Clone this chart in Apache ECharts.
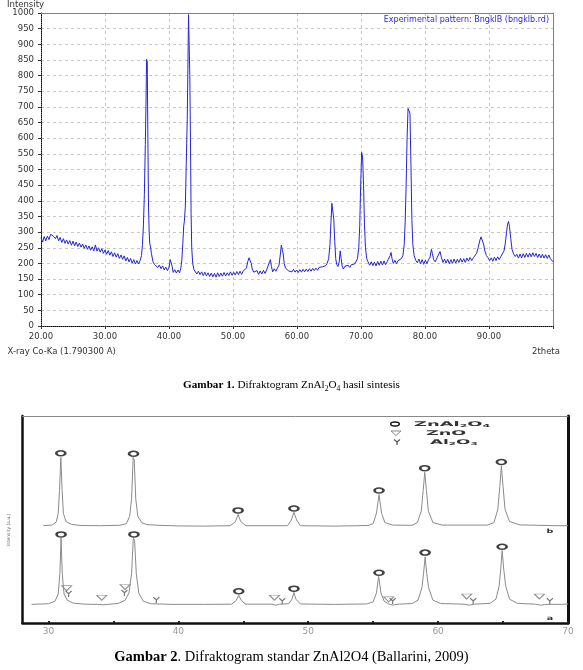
<!DOCTYPE html>
<html>
<head>
<meta charset="utf-8">
<script src="https://cdn.jsdelivr.net/npm/echarts@6/dist/echarts.min.js"></script>
<style>
  html, body { margin: 0; padding: 0; background: #fff; }
  #chart { width: 583px; height: 670px; }
</style>
</head>
<body>
<div id="chart"></div>
<script>
// Gambar 1: experimental pattern, [2theta, intensity]
const expPattern = [
  [20.0,282],[20.25,268],[20.5,286],[20.75,272],[21.0,287],[21.25,276],[21.5,293],[21.75,297],[22.0,286],[22.25,279],
  [22.5,289],[22.75,272],[23.0,283],[23.25,267],[23.5,279],[23.75,264],[24.0,275],[24.25,262],[24.5,273],[24.75,258],
  [25.0,271],[25.25,256],[25.5,268],[25.75,254],[26.0,265],[26.25,252],[26.5,262],[26.75,248],[27.0,259],[27.25,245],
  [27.5,256],[27.75,242],[28.0,253],[28.25,240],[28.5,259],[28.75,239],[29.0,250],[29.25,236],[29.5,247],[29.75,232],
  [30.0,243],[30.25,229],[30.5,241],[30.75,226],[31.0,237],[31.25,222],[31.5,234],[31.75,220],[32.0,231],[32.25,216],
  [32.5,227],[32.75,213],[33.0,224],[33.25,208],[33.5,219],[33.75,205],[34.0,216],[34.25,201],[34.5,212],[34.75,198],
  [35.0,209],[35.25,198],[35.5,210],[35.7,225],[35.85,260],[36.0,320],[36.15,420],[36.3,580],[36.4,700],[36.5,852],
  [36.6,845],[36.7,600],[36.8,380],[36.9,300],[37.0,262],[37.1,255],[37.25,232],[37.5,205],[37.75,196],[38.0,199],
  [38.25,187],[38.5,195],[38.75,183],[39.0,192],[39.25,179],[39.5,188],[39.75,177],[40.0,188],[40.2,212],[40.35,218],
  [40.5,190],[40.65,171],[40.9,180],[41.15,169],[41.4,179],[41.65,170],[41.85,185],[42.0,210],[42.15,260],[42.3,320],
  [42.4,335],[42.55,380],[42.7,520],[42.85,660],[42.95,820],[43.05,995],[43.15,990],[43.25,800],[43.35,600],[43.45,360],
  [43.55,250],[43.7,200],[43.9,180],[44.1,176],[44.35,166],[44.6,175],[44.85,164],[45.1,173],[45.35,161],[45.6,172],
  [45.85,160],[46.1,170],[46.35,158],[46.6,169],[46.85,157],[47.1,168],[47.35,156],[47.6,170],[47.85,158],[48.1,169],
  [48.35,159],[48.6,171],[48.85,160],[49.1,170],[49.35,161],[49.6,173],[49.85,162],[50.1,172],[50.35,163],[50.6,174],
  [50.85,164],[51.1,175],[51.35,165],[51.6,176],[51.85,174],[52.1,185],[52.3,205],[52.5,218],[52.7,220],[52.85,200],
  [53.0,182],[53.25,172],[53.5,166],[53.75,177],[54.0,165],[54.25,176],[54.5,166],[54.75,178],[55.0,168],[55.25,179],
  [55.5,182],[55.7,205],[55.85,212],[56.0,190],[56.2,173],[56.45,183],[56.7,175],[56.95,185],[57.2,195],[57.4,230],
  [57.55,258],[57.7,262],[57.85,230],[58.0,200],[58.2,185],[58.45,184],[58.7,176],[58.95,182],[59.2,173],[59.45,181],
  [59.7,172],[59.95,179],[60.2,171],[60.45,180],[60.7,172],[60.95,181],[61.2,173],[61.45,182],[61.7,174],[61.95,183],
  [62.2,175],[62.45,184],[62.7,177],[62.95,185],[63.2,178],[63.45,187],[63.7,181],[63.95,189],[64.2,190],[64.45,192],
  [64.7,200],[64.95,215],[65.15,260],[65.3,330],[65.45,392],[65.6,396],[65.75,340],[65.9,270],[66.05,215],[66.2,197],
  [66.4,190],[66.6,205],[66.75,240],[66.9,215],[67.05,192],[67.25,182],[67.5,191],[67.75,186],[68.0,194],[68.25,187],
  [68.5,196],[68.75,190],[69.0,198],[69.25,200],[69.45,215],[69.65,250],[69.8,320],[69.95,450],[70.1,555],[70.25,540],
  [70.4,450],[70.55,320],[70.7,250],[70.9,215],[71.1,205],[71.35,194],[71.6,205],[71.85,193],[72.1,204],[72.35,192],
  [72.6,206],[72.85,194],[73.1,207],[73.35,195],[73.6,208],[73.85,196],[74.1,206],[74.35,208],[74.55,225],[74.7,235],
  [74.85,215],[75.05,200],[75.3,210],[75.55,199],[75.8,209],[76.05,210],[76.3,215],[76.55,225],[76.75,260],[76.9,330],
  [77.05,450],[77.2,600],[77.35,695],[77.5,690],[77.65,680],[77.8,520],[77.95,340],[78.1,260],[78.3,225],[78.55,210],
  [78.8,202],[79.05,214],[79.3,199],[79.55,212],[79.8,197],[80.05,210],[80.3,199],[80.55,212],[80.8,220],[81.0,245],
  [81.15,232],[81.35,212],[81.6,205],[81.85,217],[82.1,222],[82.35,238],[82.55,220],[82.8,203],[83.05,214],[83.3,201],
  [83.55,213],[83.8,199],[84.05,212],[84.3,200],[84.55,214],[84.8,201],[85.05,213],[85.3,203],[85.55,216],[85.8,204],
  [86.05,215],[86.3,203],[86.55,217],[86.8,207],[87.05,219],[87.3,209],[87.55,218],[87.8,222],[88.05,232],[88.3,250],
  [88.55,272],[88.75,285],[88.95,282],[89.15,262],[89.35,240],[89.6,225],[89.85,218],[90.1,209],[90.35,218],[90.6,207],
  [90.85,220],[91.1,209],[91.35,221],[91.6,212],[91.85,222],[92.1,228],[92.35,240],[92.55,265],[92.75,300],[92.9,325],
  [93.05,334],[93.2,318],[93.4,280],[93.6,245],[93.85,230],[94.1,222],[94.35,229],[94.6,217],[94.85,230],[95.1,218],
  [95.35,231],[95.6,219],[95.85,232],[96.1,220],[96.35,233],[96.6,221],[96.85,234],[97.1,222],[97.35,232],[97.6,219],
  [97.85,230],[98.1,218],[98.35,229],[98.6,217],[98.85,228],[99.1,216],[99.35,227],[99.6,215],[99.85,214],[100.0,205]
];

// Gambar 2: standard patterns (b = top trace, a = bottom trace), arbitrary units
const stdPatternB = [
  [29.6,47],[30.3,47.4],[30.6,48.8],[30.75,53],[30.85,64],[30.95,80],[31.05,64],[31.15,53],[31.35,49],[31.8,47.6],
  [32.5,47.1],[34.0,47],[35.5,47.2],[36.0,48],[36.25,51.5],[36.4,60],[36.52,80],[36.6,79],[36.72,60],[36.88,51.5],
  [37.2,48.4],[37.6,47.5],[38.5,47.2],[40.0,46.9],[42.0,46.8],[44.0,47],[44.4,49],[44.6,52.5],[44.8,49],[45.2,47],
  [48.4,47],[48.7,49.8],[48.9,53.5],[49.1,49.8],[49.4,47],[52.0,46.8],[54.6,47.1],[55.0,48],[55.25,53],[55.45,62],
  [55.65,53],[55.9,48.5],[56.5,47.3],[58.0,47.2],[58.4,48.5],[58.7,54],[58.85,64],[58.97,72.8],[59.1,64],[59.25,54],
  [59.6,48.5],[60.3,47.3],[63.8,47.3],[64.3,48.5],[64.6,55],[64.75,66],[64.87,76],[65.0,66],[65.15,55],[65.5,49],
  [66.3,47.4],[69.0,47],[70.0,47]
];
const stdPatternA = [
  [28.7,9],[30.0,9.3],[30.5,10.5],[30.75,14],[30.88,24],[30.97,41],[31.06,24],[31.2,14],[31.45,11],[31.9,9.6],
  [32.8,9.1],[33.8,9],[34.2,8.8],[34.6,9],[35.4,9.5],[35.9,11],[36.2,14.5],[36.4,24],[36.53,41],[36.63,40],
  [36.76,24],[36.95,14.5],[37.3,10.5],[37.9,9.3],[39.5,9],[42.0,9],[44.1,9.1],[44.45,10.8],[44.65,13.4],[44.85,10.8],
  [45.2,9.1],[47.2,9.1],[47.5,8.6],[47.8,9.1],[48.5,9.3],[48.75,11.5],[48.9,14.8],[49.05,11.5],[49.4,9.2],[52.0,9],
  [54.5,9.2],[55.0,10.2],[55.25,14.5],[55.42,22.5],[55.6,14.5],[55.85,10.5],[56.2,9.2],[56.5,8.6],[56.9,9.1],[58.0,9.4],
  [58.45,11],[58.75,17],[58.88,24],[59.0,32],[59.12,24],[59.27,17],[59.6,11],[60.2,9.4],[62.0,9.1],[62.4,8.6],
  [62.8,9.1],[64.0,9.5],[64.45,11.5],[64.7,18],[64.82,26],[64.93,35],[65.05,26],[65.2,18],[65.5,11.5],[66.1,9.5],
  [67.5,9.1],[67.9,8.6],[68.3,9],[69.5,9],[70.0,9.2]
];

// phase markers
const znAlMarkB = [[30.95,82],[36.55,81.8],[44.6,54.4],[48.9,55.3],[55.45,64],[58.97,74.8],[64.87,77.8]];
const znAlMarkA = [[30.97,42.8],[36.58,42.8],[44.65,15.3],[48.9,16.6],[55.45,24.3],[59.0,34],[64.93,36.8]];
const znoMark = [[31.4,16.8],[34.1,12.2],[35.9,17.4],[47.4,12.2],[56.2,11.4],[62.2,12.8],[67.8,12.8]];
const al2o3Mark = [[31.55,14],[35.85,14.5],[38.3,11],[48.0,10.5],[56.5,10.5],[62.7,10.5],[68.6,10.5]];

const stdTicks = [30, 35, 40, 45, 50, 55, 60, 65, 70];
const stdLabels = [30, 40, 50, 60, 70];

const chart = echarts.init(document.getElementById('chart'));

const uiFont = 'DejaVu Sans';
const serif = 'Liberation Serif';
const hiddenAxis = { show: false };

const capRich = {
  b: { fontFamily: serif, fontSize: 11.2, fontWeight: 'bold', lineHeight: 16, fill: '#000', color: '#000' },
  r: { fontFamily: serif, fontSize: 11.2, lineHeight: 16, fill: '#000', color: '#000' },
  s: { fontFamily: serif, fontSize: 7.5, lineHeight: 8, verticalAlign: 'bottom', fill: '#000', color: '#000' }
};
const legRich = {
  t: { fontFamily: uiFont, fontSize: 6.5, fontWeight: 'bold', lineHeight: 8, fill: '#333', color: '#333' },
  s: { fontFamily: uiFont, fontSize: 4, fontWeight: 'bold', lineHeight: 4, verticalAlign: 'bottom', fill: '#333', color: '#333' }
};

function txt(x, y, text, font, fill, align, extra) {
  return Object.assign({
    type: 'text', x: x, y: y, silent: true,
    style: { text: text, font: font, fill: fill, textAlign: align || 'left', textVerticalAlign: 'middle' }
  }, extra || {});
}

const options = {
  animation: false,
  grid: [
    { left: 41, right: 30, top: 13, bottom: 344 },
    { left: 22.5, right: 15, top: 416, bottom: 47 }
  ],
  xAxis: [
    {
      type: 'value', gridIndex: 0, min: 20, max: 100, interval: 10,
      axisLine: { onZero: false, lineStyle: { color: '#000', type: 'dotted' } },
      axisTick: { length: 3, lineStyle: { color: '#333' } },
      axisLabel: {
        margin: 6, color: '#333', fontSize: 8.5, fontFamily: uiFont,
        formatter: v => (v === 100 ? '' : v.toFixed(2))
      },
      splitLine: { lineStyle: { color: '#c8c8c8', type: [3, 3] } }
    },
    {
      type: 'value', gridIndex: 0, position: 'top', min: 20, max: 100,
      axisLine: { show: true, onZero: false, lineStyle: { color: '#808080' } },
      axisTick: hiddenAxis, axisLabel: hiddenAxis, splitLine: hiddenAxis
    },
    {
      type: 'value', gridIndex: 1, min: 28, max: 70,
      axisLine: { onZero: false, lineStyle: { color: '#111', width: 2.5 } },
      axisTick: { customValues: stdTicks, length: 2, inside: true, lineStyle: { color: '#222', width: 2 } },
      axisLabel: { customValues: stdLabels, margin: 4, color: '#999', fontSize: 9, fontFamily: uiFont },
      splitLine: hiddenAxis
    },
    {
      type: 'value', gridIndex: 1, position: 'top', min: 28, max: 70,
      axisLine: { show: true, onZero: false, lineStyle: { color: '#888' } },
      axisTick: hiddenAxis, axisLabel: hiddenAxis, splitLine: hiddenAxis
    }
  ],
  yAxis: [
    {
      type: 'value', gridIndex: 0, min: 0, max: 1000, interval: 50,
      axisLine: { show: true, onZero: false, lineStyle: { color: '#000', type: 'dotted' } },
      axisTick: { show: true, length: 3, lineStyle: { color: '#333' } },
      axisLabel: { margin: 7, color: '#333', fontSize: 8.5, fontFamily: uiFont, formatter: v => String(v) },
      splitLine: { lineStyle: { color: '#c8c8c8', type: [3, 3] } }
    },
    {
      type: 'value', gridIndex: 0, position: 'right', min: 0, max: 1000,
      axisLine: { show: true, onZero: false, lineStyle: { color: '#808080' } },
      axisTick: hiddenAxis, axisLabel: hiddenAxis, splitLine: hiddenAxis
    },
    {
      type: 'value', gridIndex: 1, min: 0, max: 100,
      axisLine: { show: true, onZero: false, lineStyle: { color: '#111', width: 2.5 } },
      axisTick: hiddenAxis, axisLabel: hiddenAxis, splitLine: hiddenAxis
    },
    {
      type: 'value', gridIndex: 1, position: 'right', min: 0, max: 100,
      axisLine: { show: true, onZero: false, lineStyle: { color: '#111', width: 3 } },
      axisTick: hiddenAxis, axisLabel: hiddenAxis, splitLine: hiddenAxis
    }
  ],
  series: [
    {
      name: 'Experimental pattern', type: 'line', xAxisIndex: 0, yAxisIndex: 0,
      data: expPattern, showSymbol: false, silent: true,
      lineStyle: { color: '#2323dc', width: 1 }
    },
    {
      name: 'b', type: 'line', xAxisIndex: 2, yAxisIndex: 2,
      data: stdPatternB, showSymbol: false, silent: true,
      lineStyle: { color: '#8a8a8a', width: 1 }
    },
    {
      name: 'a', type: 'line', xAxisIndex: 2, yAxisIndex: 2,
      data: stdPatternA, showSymbol: false, silent: true,
      lineStyle: { color: '#8a8a8a', width: 1 }
    },
    {
      name: 'ZnAl2O4', type: 'scatter', xAxisIndex: 2, yAxisIndex: 2,
      data: znAlMarkB.concat(znAlMarkA), symbol: 'emptyCircle', symbolSize: [9, 5], silent: true,
      itemStyle: { color: '#111', borderColor: '#111', borderWidth: 1.5 }
    },
    {
      name: 'ZnO', type: 'scatter', xAxisIndex: 2, yAxisIndex: 2,
      data: znoMark, symbol: 'triangle', symbolRotate: 180, symbolSize: [10, 5], silent: true,
      itemStyle: { color: '#fff', borderColor: '#777', borderWidth: 1 }
    },
    {
      name: 'Al2O3', type: 'scatter', xAxisIndex: 2, yAxisIndex: 2,
      data: al2o3Mark, symbol: 'path://M0,0L5,5L10,0M5,5L5,11', symbolSize: [6, 6], silent: true,
      itemStyle: { color: 'rgba(0,0,0,0)', borderColor: '#555', borderWidth: 1.2 }
    }
  ],
  graphic: [
    txt(7, 4.5, 'Intensity', '8.5px "DejaVu Sans"', '#333'),
    txt(549, 20, 'Experimental pattern: BngklB (bngklb.rd)', '8px "DejaVu Sans"', '#2a2ad8', 'right'),
    txt(7.5, 351.5, 'X-ray Co-Ka (1.790300 A)', '8.5px "DejaVu Sans"', '#333'),
    txt(532, 351.5, '2theta', '8.5px "DejaVu Sans"', '#333'),
    {
      type: 'text', x: 291.5, y: 385, silent: true,
      style: {
        text: '{b|Gambar 1.}{r| Difraktogram ZnAl}{s|2}{r|O}{s|4}{r| hasil sintesis}',
        textAlign: 'center', textVerticalAlign: 'middle', rich: capRich
      }
    },
    {
      type: 'text', x: 291.5, y: 657, silent: true,
      style: {
        text: '{b|Gambar 2}{r|. Difraktogram standar ZnAl2O4 (Ballarini, 2009)}',
        textAlign: 'center', textVerticalAlign: 'middle',
        rich: {
          b: Object.assign({}, capRich.b, { fontSize: 14.5 }),
          r: Object.assign({}, capRich.r, { fontSize: 14.5 })
        }
      }
    },
    // legend of the standard pattern
    { type: 'ellipse', silent: true, shape: { cx: 395, cy: 424, rx: 4.3, ry: 2 }, style: { fill: '#fff', stroke: '#111', lineWidth: 1.4 } },
    { type: 'polygon', silent: true, shape: { points: [[391, 431], [401, 431], [396, 435.5]] }, style: { fill: '#fff', stroke: '#888', lineWidth: 1 } },
    { type: 'polyline', silent: true, shape: { points: [[394, 439.5], [397, 442], [400, 439.5]] }, style: { stroke: '#555', lineWidth: 1.2, fill: null } },
    { type: 'line', silent: true, shape: { x1: 397, y1: 442, x2: 397, y2: 445 }, style: { stroke: '#555', lineWidth: 1.2 } },
    {
      type: 'text', x: 414, y: 424, scaleX: 2.75, silent: true,
      style: { text: '{t|ZnAl}{s|2}{t|O}{s|4}', textVerticalAlign: 'middle', rich: legRich }
    },
    {
      type: 'text', x: 426, y: 433, scaleX: 2.7, silent: true,
      style: { text: '{t|ZnO}', textVerticalAlign: 'middle', rich: legRich }
    },
    {
      type: 'text', x: 430, y: 442, scaleX: 2.6, silent: true,
      style: { text: '{t|Al}{s|2}{t|O}{s|3}', textVerticalAlign: 'middle', rich: legRich }
    },
    txt(550, 531, 'b', 'bold 6px "DejaVu Sans"', '#333', 'center', { scaleX: 1.6 }),
    txt(550, 618, 'a', 'bold 6px "DejaVu Sans"', '#333', 'center', { scaleX: 1.6 }),
    txt(9, 530, 'Intensity (a.u.)', '4.5px "DejaVu Sans"', '#666', 'center', { rotation: Math.PI / 2 })
  ]
};

chart.setOption(options);
</script>
</body>
</html>
